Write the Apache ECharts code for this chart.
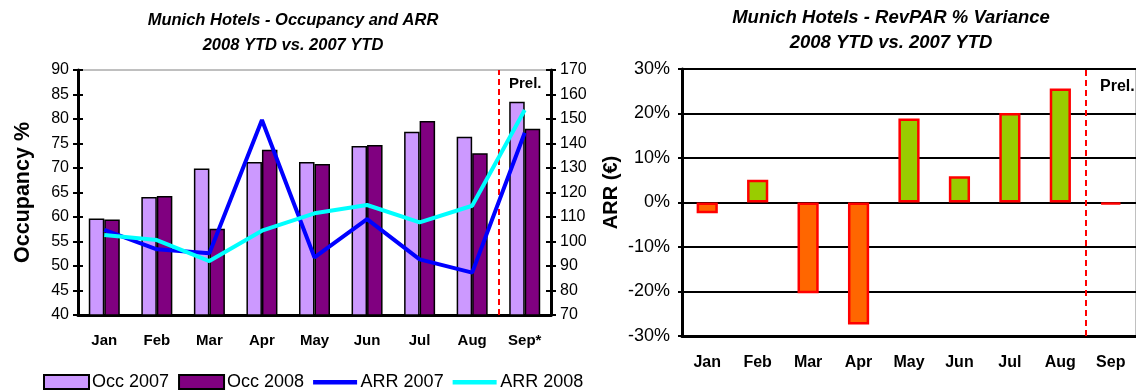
<!DOCTYPE html>
<html>
<head>
<meta charset="utf-8">
<script src="https://cdn.jsdelivr.net/npm/echarts@6/dist/echarts.min.js"></script>
<style>
html,body{margin:0;padding:0;background:#fff;}
#c{width:1136px;height:392px;}
</style>
</head>
<body>
<div id="c"></div>
<script>
const months = ['Jan','Feb','Mar','Apr','May','Jun','Jul','Aug','Sep*'];
const months2 = ['Jan','Feb','Mar','Apr','May','Jun','Jul','Aug','Sep'];
const occ2007 = [59.7,64.1,69.9,71.2,71.2,74.5,77.4,76.4,83.5];
const occ2008 = [59.5,64.3,57.6,73.7,70.8,74.7,79.6,73.0,78.0];
const arr2007 = [104.7,96.8,95.2,149.6,93.5,109.1,92.7,87.3,144.4];
const arr2008 = [102.7,100.6,92.0,104.4,111.5,114.9,107.8,114.6,153.7];
const revparVar = [-2.4,5.1,-20.4,-27.4,18.9,5.9,20.1,25.6,-0.4];
const prelBoundary = 8; // boundary between Aug and Sep (category index)

const FONT = "'Liberation Sans', Arial, sans-serif";
const LINE_ICON = 'path://M0,0 M44,14 M0,5 L44,5 L44,9.5 L0,9.5 Z';
const chart = echarts.init(document.getElementById('c'), null, {renderer:'canvas'});

const option = {
  animation:false,
  backgroundColor:'#fff',
  textStyle:{fontFamily:FONT},
  title:[
    {text:'Munich Hotels - Occupancy and ARR\n2008 YTD vs. 2007 YTD', left:293, top:8, textAlign:'center', padding:0,
     textStyle:{fontFamily:FONT, fontSize:16.5, fontWeight:'bold', fontStyle:'italic', color:'#000', lineHeight:25}},
    {text:'Munich Hotels - RevPAR % Variance\n2008 YTD vs. 2007 YTD', left:891, top:5, textAlign:'center', padding:0,
     textStyle:{fontFamily:FONT, fontSize:18.5, fontWeight:'bold', fontStyle:'italic', color:'#000', lineHeight:25}}
  ],
  legend:{
    left:43, top:373, padding:0, itemWidth:45, itemHeight:14, itemGap:9,
    data:[
      {name:'Occ 2007', icon:'rect'},
      {name:'Occ 2008', icon:'rect'},
      {name:'ARR 2007', icon:LINE_ICON},
      {name:'ARR 2008', icon:LINE_ICON}
    ],
    textStyle:{fontFamily:FONT, fontSize:18, color:'#000', padding:[0,0,0,-2]}
  },
  grid:[
    {left:78, top:70, width:473, height:245, show:true, borderColor:'#808080', borderWidth:1, backgroundColor:'transparent'},
    {left:682, top:69, width:455, height:267, show:true, borderColor:'#808080', borderWidth:1, backgroundColor:'transparent'}
  ],
  xAxis:[
    {type:'category', gridIndex:0, data:months, boundaryGap:true,
     axisLine:{lineStyle:{color:'#000', width:3}},
     axisTick:{interval:0, length:5, lineStyle:{color:'#000', width:2}},
     axisLabel:{interval:0, margin:18, fontFamily:FONT, fontSize:15, fontWeight:'bold', color:'#000'}},
    {type:'value', gridIndex:0, min:0, max:9, show:false},
    {type:'category', gridIndex:1, data:months2, boundaryGap:true, position:'bottom',
     axisLine:{onZero:false, lineStyle:{color:'#000', width:3}},
     axisTick:{interval:0, length:5, lineStyle:{color:'#000', width:2}},
     axisLabel:{interval:0, margin:19, fontFamily:FONT, fontSize:16, fontWeight:'bold', color:'#000'}},
    {type:'value', gridIndex:1, min:0, max:9, show:false}
  ],
  yAxis:[
    {type:'value', gridIndex:0, min:40, max:90, interval:5, position:'left',
     name:'Occupancy %', nameLocation:'middle', nameGap:44, nameRotate:90,
     nameTextStyle:{fontFamily:FONT, fontSize:21.5, fontWeight:'bold', color:'#000'},
     axisLine:{show:true, lineStyle:{color:'#000', width:3}},
     axisTick:{show:true, length:5, lineStyle:{color:'#000', width:2}},
     axisLabel:{margin:9, fontFamily:FONT, fontSize:16, color:'#000'},
     splitLine:{show:false}},
    {type:'value', gridIndex:0, min:70, max:170, interval:10, position:'right',
     name:'ARR (€)', nameLocation:'middle', nameGap:50, nameRotate:90,
     nameTextStyle:{fontFamily:FONT, fontSize:20, fontWeight:'bold', color:'#000'},
     axisLine:{show:true, lineStyle:{color:'#000', width:3}},
     axisTick:{show:true, length:5, lineStyle:{color:'#000', width:2}},
     axisLabel:{margin:9, fontFamily:FONT, fontSize:16, color:'#000'},
     splitLine:{show:false}},
    {type:'value', gridIndex:0, min:40, max:90, interval:5, position:'left',
     axisLine:{show:false}, axisLabel:{show:false}, splitLine:{show:false},
     axisTick:{show:true, inside:true, length:5, lineStyle:{color:'#000', width:2}}},
    {type:'value', gridIndex:0, min:70, max:170, interval:10, position:'right',
     axisLine:{show:false}, axisLabel:{show:false}, splitLine:{show:false},
     axisTick:{show:true, inside:true, length:5, lineStyle:{color:'#000', width:2}}},
    {type:'value', gridIndex:1, min:-30, max:30, interval:10, position:'left',
     axisLine:{show:true, lineStyle:{color:'#000', width:3}},
     axisTick:{show:true, length:4, lineStyle:{color:'#000', width:2}},
     axisLabel:{margin:12, fontFamily:FONT, fontSize:18, color:'#000', formatter:'{value}%'},
     splitLine:{show:true, lineStyle:{color:'#000', width:2}}}
  ],
  series:[
    {name:'Occ 2007', type:'bar', xAxisIndex:0, yAxisIndex:0, data:occ2007,
     barGap:'0%', barCategoryGap:'41%',
     itemStyle:{color:'#CC99FF', borderColor:'#000', borderWidth:1.5}},
    {name:'Occ 2008', type:'bar', xAxisIndex:0, yAxisIndex:0, data:occ2008,
     barGap:'0%', barCategoryGap:'41%',
     itemStyle:{color:'#800080', borderColor:'#000', borderWidth:1.5}},
    {name:'ARR 2007', type:'line', xAxisIndex:0, yAxisIndex:1, data:arr2007,
     symbol:'none', showSymbol:false, lineStyle:{color:'#0000FF', width:4}, itemStyle:{color:'#0000FF'}, z:5},
    {name:'ARR 2008', type:'line', xAxisIndex:0, yAxisIndex:1, data:arr2008,
     symbol:'none', showSymbol:false, lineStyle:{color:'#00FFFF', width:4}, itemStyle:{color:'#00FFFF'}, z:5},
    {name:'divider1', type:'line', xAxisIndex:1, yAxisIndex:0, data:[], z:6,
     markLine:{silent:true, symbol:'none', label:{show:false},
       lineStyle:{color:'#FF0000', type:[6,4], width:2}, data:[{xAxis:prelBoundary}]}},
    {name:'RevPAR % Variance', type:'bar', xAxisIndex:2, yAxisIndex:4, data:revparVar,
     barCategoryGap:'58%',
     itemStyle:{borderColor:'#FF0000', borderWidth:2.5,
       color:function(p){return p.value>=0 ? '#99CC00' : '#FF6600';}}},
    {name:'divider2', type:'line', xAxisIndex:3, yAxisIndex:4, data:[], z:6,
     markLine:{silent:true, symbol:'none', label:{show:false},
       lineStyle:{color:'#FF0000', type:[6,4], width:2}, data:[{xAxis:prelBoundary}]}}
  ],
  graphic:[
    {type:'text', left:509, top:76, style:{text:'Prel.', fontFamily:FONT, fontSize:15, fontWeight:'bold', fill:'#000'}},
    {type:'text', left:1100, top:79, style:{text:'Prel.', fontFamily:FONT, fontSize:16, fontWeight:'bold', fill:'#000'}}
  ]
};
chart.setOption(option);
</script>
</body>
</html>
